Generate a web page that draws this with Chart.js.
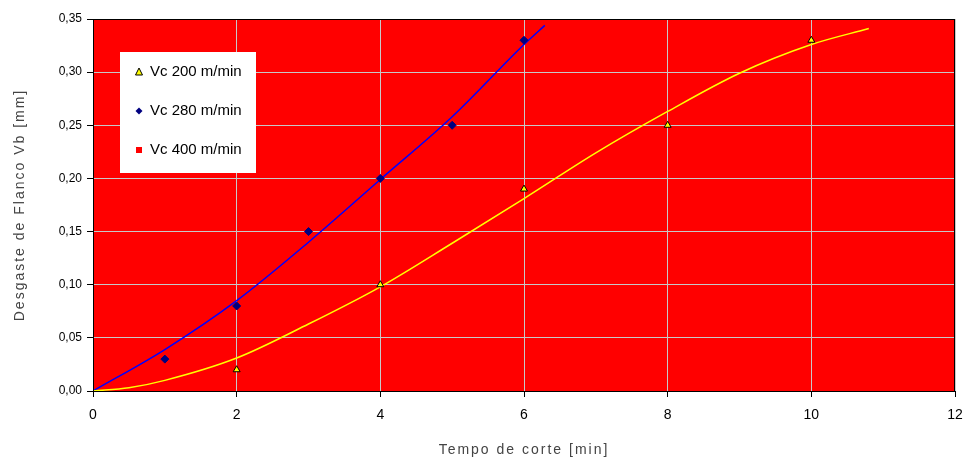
<!DOCTYPE html>
<html>
<head>
<meta charset="utf-8">
<script src="https://cdn.jsdelivr.net/npm/chart.js@4.4.1/dist/chart.umd.min.js"></script>
<style>
  html, body { margin: 0; padding: 0; background: #fff; }
  #wrap { width: 968px; height: 459px; }
</style>
</head>
<body>
<div id="wrap"><canvas id="chart" width="968" height="459"></canvas></div>
<script>
// measured points
const vc200X = [2, 4, 6, 8, 10];
const vc200Y = [0.02, 0.10, 0.19, 0.25, 0.33];
const vc280X = [1, 2, 3, 4, 5, 6];
const vc280Y = [0.03, 0.08, 0.15, 0.20, 0.25, 0.33];
const vc400X = [];
const vc400Y = [];

// trend lines
const trend200X = [0, 0.5, 1, 2, 3, 4, 5, 6, 7, 8, 9, 10, 10.8];
const trend200Y = [0, 0.003, 0.010, 0.031, 0.063, 0.098, 0.139, 0.181, 0.224, 0.263, 0.299, 0.326, 0.341];
const trend280X = [0, 1, 2, 3, 4, 5, 6, 6.29];
const trend280Y = [0, 0.039, 0.085, 0.140, 0.199, 0.258, 0.326, 0.344];

const xTicks = [0, 2, 4, 6, 8, 10, 12];
const yTicks = [0, 0.05, 0.10, 0.15, 0.20, 0.25, 0.30, 0.35];

const seriesNames = ["Vc 200 m/min", "Vc 280 m/min", "Vc 400 m/min"];
const xTitle = "Tempo de corte [min]";
const yTitle = "Desgaste de Flanco Vb [mm]";

function pairs(xs, ys) {
  return xs.map((x, i) => ({ x: x, y: ys[i] }));
}

// red plot area with dark frame
const plotArea = {
  id: "plotArea",
  beforeDraw(chart) {
    const { ctx, chartArea: a } = chart;
    ctx.save();
    ctx.fillStyle = "#ff0000";
    ctx.fillRect(a.left, a.top, a.right - a.left, a.bottom - a.top);
    ctx.restore();
  },
  afterDatasetsDraw(chart) {
    const { ctx, chartArea: a } = chart;
    ctx.save();
    ctx.strokeStyle = "#000";
    ctx.lineWidth = 1;
    ctx.strokeRect(a.left + 0.5, a.top + 0.5, a.right - a.left - 1, a.bottom - a.top);
    ctx.restore();
  }
};

// spaced-out axis titles, like the original
const axisTitles = {
  id: "axisTitles",
  afterDraw(chart) {
    const { ctx, chartArea: a } = chart;
    ctx.save();
    ctx.fillStyle = "#444";
    ctx.font = "14px 'Liberation Sans', Arial, sans-serif";
    ctx.letterSpacing = "2px";
    ctx.textAlign = "center";
    ctx.textBaseline = "middle";
    ctx.fillText(xTitle, (a.left + a.right) / 2, 450);
    ctx.translate(20, (a.top + a.bottom) / 2);
    ctx.rotate(-Math.PI / 2);
    ctx.fillText(yTitle, 0, 0);
    ctx.letterSpacing = "0px";
    ctx.restore();
  }
};

// legend box sitting inside the plot
const boxLegend = {
  id: "boxLegend",
  afterDraw(chart) {
    const ctx = chart.ctx;
    ctx.save();
    ctx.fillStyle = "#fff";
    ctx.fillRect(120, 52, 136, 121);
    const rows = [72, 111, 150];
    ctx.font = "15px 'Liberation Sans', Arial, sans-serif";
    ctx.textBaseline = "middle";
    rows.forEach((y, i) => {
      const mx = 139;
      if (i === 0) {
        ctx.beginPath();
        ctx.moveTo(mx, y - 4);
        ctx.lineTo(mx + 3.5, y + 3);
        ctx.lineTo(mx - 3.5, y + 3);
        ctx.closePath();
        ctx.fillStyle = "#ffff00";
        ctx.fill();
        ctx.strokeStyle = "#000";
        ctx.lineWidth = 1;
        ctx.stroke();
      } else if (i === 1) {
        ctx.beginPath();
        ctx.moveTo(mx, y - 3.5);
        ctx.lineTo(mx + 3.5, y);
        ctx.lineTo(mx, y + 3.5);
        ctx.lineTo(mx - 3.5, y);
        ctx.closePath();
        ctx.fillStyle = "#000080";
        ctx.fill();
      } else {
        ctx.fillStyle = "#ff0000";
        ctx.fillRect(mx - 3, y - 3, 6, 6);
      }
      ctx.fillStyle = "#000";
      ctx.fillText(seriesNames[i], 150, y);
    });
    ctx.restore();
  }
};

new Chart(document.getElementById("chart"), {
  type: "scatter",
  data: {
    datasets: [
      {
        label: seriesNames[0],
        data: pairs(vc200X, vc200Y),
        pointStyle: "triangle",
        pointRadius: 4,
        backgroundColor: "#ffff00",
        borderColor: "#000",
        borderWidth: 1,
        order: 1
      },
      {
        label: seriesNames[1],
        data: pairs(vc280X, vc280Y),
        pointStyle: "rectRot",
        pointRadius: 4,
        backgroundColor: "#000080",
        borderColor: "#000080",
        borderWidth: 1,
        order: 1
      },
      {
        label: seriesNames[2],
        data: pairs(vc400X, vc400Y),
        pointStyle: "rect",
        pointRadius: 3,
        backgroundColor: "#ff0000",
        borderColor: "#ff0000",
        order: 1
      },
      {
        label: "trend 200",
        type: "line",
        data: pairs(trend200X, trend200Y),
        borderColor: "#ffff00",
        borderWidth: 1.5,
        pointRadius: 0,
        cubicInterpolationMode: "monotone",
        fill: false,
        order: 2
      },
      {
        label: "trend 280",
        type: "line",
        data: pairs(trend280X, trend280Y),
        borderColor: "#0000ff",
        borderWidth: 1.5,
        pointRadius: 0,
        cubicInterpolationMode: "monotone",
        fill: false,
        order: 2
      }
    ]
  },
  options: {
    responsive: false,
    animation: false,
    layout: { padding: { left: 0, top: 19, right: 13, bottom: 0 } },
    plugins: {
      legend: { display: false },
      tooltip: { enabled: false }
    },
    scales: {
      x: {
        type: "linear",
        min: 0,
        max: 12,
        afterBuildTicks(scale) { scale.ticks = xTicks.map(v => ({ value: v })); },
        afterFit(scale) {
          scale.height = 68;
          scale.paddingLeft = 8;
          scale.paddingRight = 8;
        },
        grid: {
          color: "#c8c8c8",
          lineWidth: 1,
          tickLength: 6,
          tickColor: "#000"
        },
        border: { color: "#000", width: 1 },
        ticks: {
          color: "#000",
          font: { family: "'Liberation Sans', Arial, sans-serif", size: 14 },
          padding: 10
        },
        title: { display: false }
      },
      y: {
        type: "linear",
        min: 0,
        max: 0.35,
        afterBuildTicks(scale) { scale.ticks = yTicks.map(v => ({ value: v })); },
        afterFit(scale) { scale.width = 93; },
        grid: {
          color: "#c8c8c8",
          lineWidth: 1,
          tickLength: 6,
          tickColor: "#000"
        },
        border: { color: "#000", width: 1 },
        ticks: {
          color: "#000",
          font: { family: "'Liberation Sans', Arial, sans-serif", size: 12 },
          padding: 5,
          callback: v => v.toFixed(2).replace(".", ",")
        },
        title: { display: false }
      }
    }
  },
  plugins: [plotArea, axisTitles, boxLegend]
});
</script>
</body>
</html>
